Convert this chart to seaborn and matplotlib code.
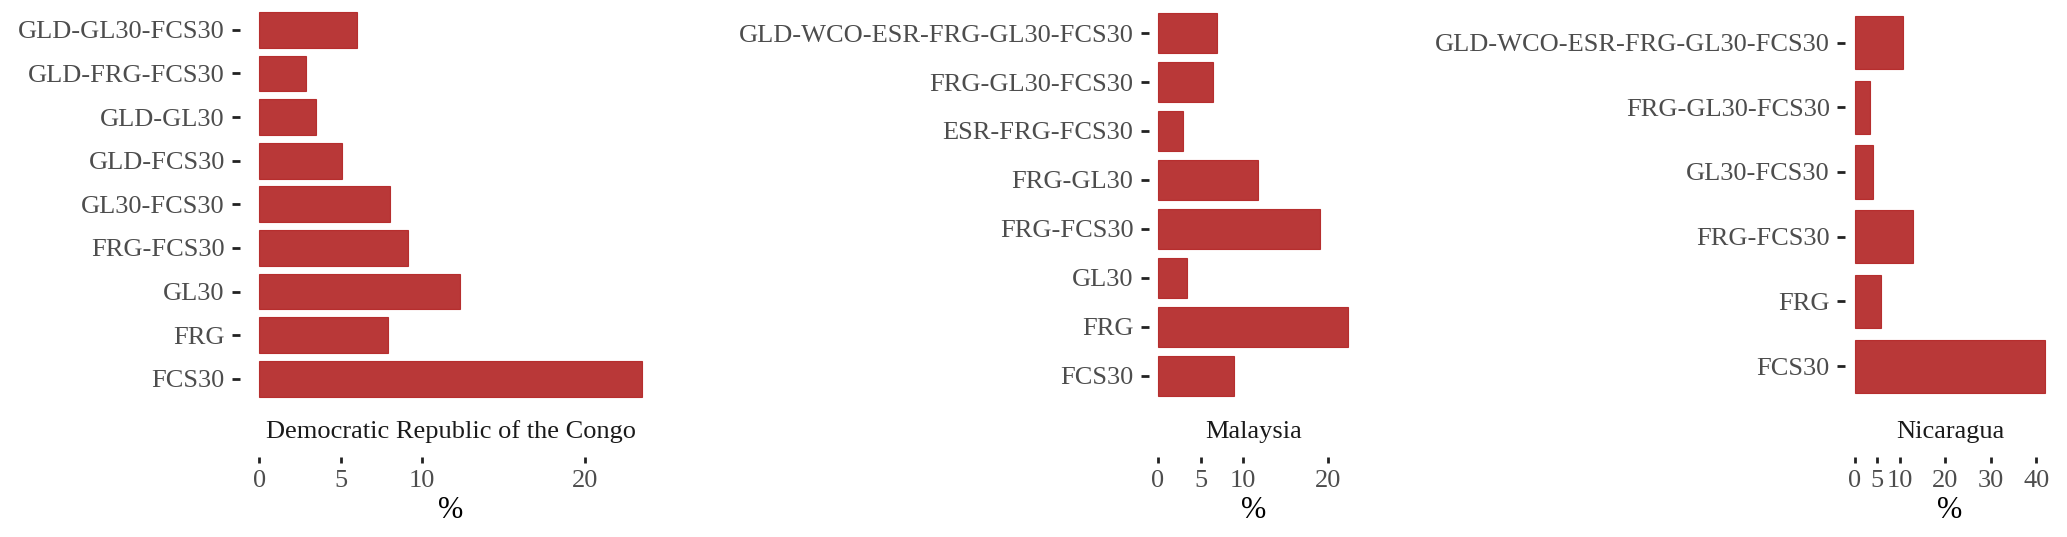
import matplotlib
matplotlib.use('Agg')
import matplotlib.pyplot as plt
import seaborn as sns

# categories listed top to bottom as they appear in each panel
drc_cats = ['GLD-GL30-FCS30', 'GLD-FRG-FCS30', 'GLD-GL30', 'GLD-FCS30',
            'GL30-FCS30', 'FRG-FCS30', 'GL30', 'FRG', 'FCS30']
drc_vals = [6.0, 2.9, 3.5, 5.1, 8.0, 9.1, 12.3, 7.9, 23.5]

mys_cats = ['GLD-WCO-ESR-FRG-GL30-FCS30', 'FRG-GL30-FCS30', 'ESR-FRG-FCS30',
            'FRG-GL30', 'FRG-FCS30', 'GL30', 'FRG', 'FCS30']
mys_vals = [6.9, 6.5, 2.9, 11.7, 19.1, 3.4, 22.4, 8.9]

nic_cats = ['GLD-WCO-ESR-FRG-GL30-FCS30', 'FRG-GL30-FCS30', 'GL30-FCS30',
            'FRG-FCS30', 'FRG', 'FCS30']
nic_vals = [10.6, 3.3, 4.0, 12.8, 5.9, 42.0]

countries = ['Democratic Republic of the Congo', 'Malaysia', 'Nicaragua']
ticks_small = [0, 5, 10, 20]
ticks_large = [0, 5, 10, 20, 30, 40]

sns.set_theme(style='white')
plt.rcParams['font.family'] = ['Liberation Serif', 'DejaVu Serif']

W, H = 2067, 537
fig = plt.figure(figsize=(W / 100, H / 100), dpi=100)

# panel boxes in pixels: left, right
panels = [(240, 661.5), (1148.5, 1358), (1845, 2055)]
top_px, bot_px = 3.7, 405

data = [(drc_cats, drc_vals, ticks_small),
        (mys_cats, mys_vals, ticks_small),
        (nic_cats, nic_vals, ticks_large)]

for (left, right), (cats, vals, ticks), name in zip(panels, data, countries):
    ax = fig.add_axes([left / W, 1 - bot_px / H, (right - left) / W,
                       (bot_px - top_px) / H])
    sns.barplot(x=vals, y=cats, order=cats, orient='h', ax=ax,
                color='#B22222', saturation=1, alpha=0.9, width=0.82,
                edgecolor='#B22222', linewidth=0.8)
    n = len(cats)
    vmax = max(vals)
    ax.set_xlim(-0.05 * vmax, 1.05 * vmax)
    ax.set_ylim(n - 0.4, -0.6)
    ax.set_xticks(ticks)
    ax.set_xticklabels([str(t) for t in ticks])
    for s in ax.spines.values():
        s.set_color('none')
    # strip sits between panel and axis, so push the x axis down
    ax.spines['bottom'].set_position(('outward', 37.4))
    ax.tick_params(axis='y', direction='out', length=5.5, width=2,
                   color='#222222', pad=5.4, labelsize=19,
                   labelcolor='#4D4D4D', left=True)
    ax.tick_params(axis='x', direction='out', length=4.3, width=2,
                   color='#222222', pad=4.8, labelsize=19,
                   labelcolor='#4D4D4D', bottom=True)
    ax.set_xlabel('')
    ax.set_ylabel('')
    ax.grid(False)
    cx = (left + right) / 2 / W
    fig.text(cx, 1 - 432 / H, name, ha='center', va='center',
             fontsize=19, color='#1A1A1A')
    fig.text(cx, 1 - 511 / H, '%', ha='center', va='center',
             fontsize=22, color='black')

fig.savefig('out.png', dpi=100)
